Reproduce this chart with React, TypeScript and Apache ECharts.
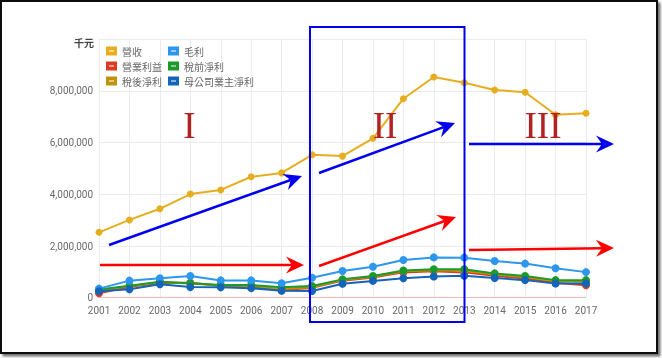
import React, { useEffect, useRef } from "react";
import * as echarts from "echarts";

const years = ["2001","2002","2003","2004","2005","2006","2007","2008","2009","2010","2011","2012","2013","2014","2015","2016","2017"];
const revenue = [2530000,3010000,3440000,4010000,4170000,4680000,4830000,5530000,5480000,6170000,7700000,8540000,8320000,8040000,7950000,7080000,7140000];
const grossProfit = [350000,660000,750000,840000,670000,670000,560000,770000,1030000,1200000,1460000,1560000,1550000,1420000,1320000,1140000,990000];
const operatingIncome = [170000,420000,570000,580000,460000,440000,300000,380000,660000,780000,980000,1020000,980000,850000,740000,580000,480000];
const preTaxIncome = [320000,460000,620000,560000,490000,490000,400000,450000,710000,840000,1050000,1100000,1100000,940000,840000,680000,680000];
const afterTaxIncome = [280000,440000,600000,550000,470000,450000,340000,400000,680000,810000,1020000,1060000,1040000,900000,800000,640000,620000];
const parentIncome = [250000,330000,520000,410000,400000,370000,270000,260000,540000,650000,750000,820000,850000,760000,680000,550000,550000];

const seriesNames = ["營收","毛利","營業利益","稅前淨利","稅後淨利","母公司業主淨利"];
const seriesColors = ["#E6AE1F","#2C97EC","#DB3B1E","#1A9A2A","#BE920C","#1464B8"];
const seriesData = [revenue, grossProfit, operatingIncome, preTaxIncome, afterTaxIncome, parentIncome];
const legendRows = [["營收","毛利"],["營業利益","稅前淨利"],["稅後淨利","母公司業主淨利"]];
const romanLabels = ["I","II","III"];

const ICON = "path://M0,0L11,0L11,9L0,9Z M3,4L3,5L8,5L8,4Z";

function arrow(x1: number, y1: number, x2: number, y2: number, color: string) {
  const dx = x2 - x1, dy = y2 - y1;
  const len = Math.sqrt(dx * dx + dy * dy);
  const ux = dx / len, uy = dy / len;
  const px = -uy, py = ux;
  const hl = 18, hw = 8.5, notch = 12;
  const bx = x2 - ux * hl, by = y2 - uy * hl;
  const nx = x2 - ux * notch, ny = y2 - uy * notch;
  return [
    { type: "line", z: 20, shape: { x1, y1, x2: nx, y2: ny }, style: { stroke: color, lineWidth: 2.5 } },
    { type: "polygon", z: 20, shape: { points: [[x2, y2], [bx + px * hw, by + py * hw], [nx, ny], [bx - px * hw, by - py * hw]] }, style: { fill: color } },
  ];
}

export default function App() {
  const ref = useRef<HTMLDivElement>(null);
  useEffect(() => {
    if (!ref.current) return;
    const chart = echarts.init(ref.current, null, { renderer: "svg" });
    const font = "Roboto, Arial, sans-serif";
    const legends = legendRows.map((row, i) => ({
      data: row.map((n) => ({ name: n, icon: ICON })),
      left: 106,
      top: 45 + i * 15,
      orient: "horizontal",
      itemWidth: 11,
      itemHeight: 9,
      itemGap: 6,
      padding: 0,
      textStyle: { fontSize: 10, color: "#666", width: 40, fontFamily: "'Noto Sans CJK TC', sans-serif", lineHeight: 12 },
    }));
    const order = [0, 2, 4, 3, 1, 5];
    const graphic: any[] = [
      { type: "rect", z: -10, shape: { x: 1, y: 1, width: 656, height: 352 }, style: { fill: "#fff", stroke: "#111", lineWidth: 2, shadowColor: "rgba(0,0,0,0.55)", shadowOffsetX: 2.5, shadowOffsetY: 2.5, shadowBlur: 2 } },
      { type: "text", z: 20, x: 74, y: 37, style: { text: "千元", fontSize: 10, fontWeight: "bold", fill: "#444", fontFamily: "'Noto Sans CJK TC', sans-serif" } },
      { type: "rect", z: 20, shape: { x: 310, y: 27, width: 154.5, height: 295 }, style: { fill: "none", stroke: "#0000EE", lineWidth: 2 } },
      { type: "text", z: 20, x: 189.5, y: 125, style: { text: romanLabels[0], fontSize: 37, fill: "#B22222", fontFamily: "'Liberation Serif', serif", align: "center", verticalAlign: "middle" } },
      { type: "text", z: 20, x: 385, y: 125, style: { text: romanLabels[1], fontSize: 37, fill: "#B22222", fontFamily: "'Liberation Serif', serif", align: "center", verticalAlign: "middle" } },
      { type: "text", z: 20, x: 543, y: 125, style: { text: romanLabels[2], fontSize: 37, fill: "#B22222", fontFamily: "'Liberation Serif', serif", align: "center", verticalAlign: "middle" } },
      ...arrow(109, 245, 302, 176, "#0000EE"),
      ...arrow(319, 173, 455, 123, "#0000EE"),
      ...arrow(469, 144, 614, 144, "#0000EE"),
      ...arrow(100, 265, 304, 265, "#FF0000"),
      ...arrow(319, 266, 456, 217, "#FF0000"),
      ...arrow(469, 250, 614, 248, "#FF0000"),
    ];
    chart.setOption({
      animation: false,
      color: seriesColors,
      textStyle: { fontFamily: font },
      grid: { left: 99, right: 76, top: 39.3, bottom: 60.3, containLabel: false },
      legend: legends,
      xAxis: {
        type: "category",
        data: years,
        boundaryGap: false,
        axisLine: { show: true, lineStyle: { color: "#F2B8B5", width: 1 } },
        axisTick: { show: false },
        axisLabel: { fontSize: 10, color: "#6a6a6a", margin: 8, fontFamily: font },
        splitLine: { show: true, lineStyle: { color: "#EBEBEB" } },
      },
      yAxis: {
        type: "value",
        min: 0,
        max: 10000000,
        interval: 2000000,
        axisLine: { show: false },
        axisTick: { show: false },
        axisLabel: {
          fontSize: 10,
          color: "#6a6a6a",
          margin: 6,
          fontFamily: font,
          formatter: (v: number) => (v >= 10000000 ? "" : v.toLocaleString("en-US")),
        },
        splitLine: { show: true, lineStyle: { color: "#EBEBEB" } },
      },
      series: order.map((i) => ({
        name: seriesNames[i],
        type: "line",
        data: seriesData[i],
        symbol: "circle",
        symbolSize: i === 0 ? 7 : 8,
        lineStyle: { width: 2, color: seriesColors[i] },
        itemStyle: { color: seriesColors[i] },
        z: 3,
      })),
      graphic,
    });
    return () => chart.dispose();
  }, []);
  return <div ref={ref} style={{ position: "fixed", left: 0, top: 0, width: 662, height: 358 }} />;
}
